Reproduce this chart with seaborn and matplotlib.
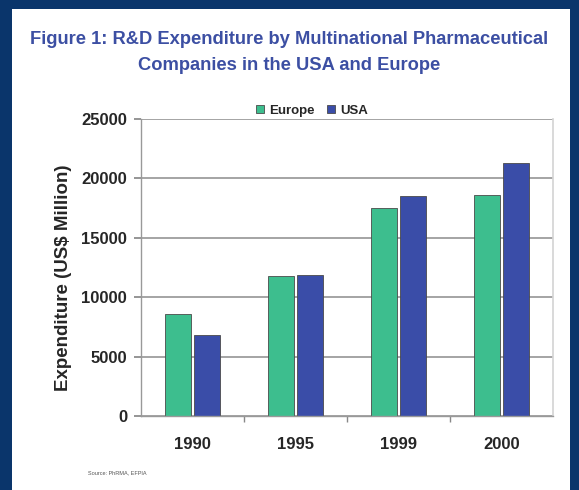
import matplotlib
matplotlib.use("Agg")
import matplotlib.pyplot as plt
import seaborn as sns
import pandas as pd
from matplotlib.patches import Rectangle

years = ["1990", "1995", "1999", "2000"]
europe = [8600, 11800, 17500, 18600]
usa = [6800, 11900, 18500, 21300]
series = ["Europe", "USA"]
colors = ["#3DBE8E", "#3A4DA8"]
yticks = [0, 5000, 10000, 15000, 20000, 25000]

df = pd.DataFrame({
    "Year": years * 2,
    "Value": europe + usa,
    "Series": ["Europe"] * len(years) + ["USA"] * len(years),
})

sns.set_theme(style="white")
plt.rcParams["font.family"] = ["Liberation Sans", "DejaVu Sans"]

W, H = 579, 490
fig = plt.figure(figsize=(W / 100, H / 100), dpi=100)
fig.patch.set_facecolor("#0A356B")
fig.patches.append(Rectangle((12 / W, 0), (570 - 12) / W, (H - 9) / H,
                             transform=fig.transFigure, facecolor="white",
                             edgecolor="none", zorder=-10))

ax = fig.add_axes([141 / W, 1 - 416 / H, (553 - 141) / W, (416 - 119) / H])
ax.set_zorder(5)
ax.set_facecolor("white")
sns.barplot(data=df, x="Year", y="Value", hue="Series", hue_order=series,
            palette=colors, saturation=1, width=0.58, gap=0.13, ax=ax,
            edgecolor="#4A4A4A", linewidth=0.6, legend=True)

ax.set_ylim(0, 25000)
ax.set_yticks(yticks)
ax.set_yticklabels([str(v) for v in yticks], fontsize=12, fontweight="bold")
ax.set_xlim(-0.5, 3.5)
ax.set_xticks(range(len(years)))
ax.set_xticklabels(years, fontsize=12, fontweight="bold")
ax.tick_params(axis="x", length=0, pad=15)
ax.set_xticks([0.5, 1.5, 2.5], minor=True)
ax.tick_params(axis="x", which="minor", length=4, color="#888888", direction="out", bottom=True)
ax.tick_params(axis="y", length=5, color="#888888", direction="out", left=True, pad=5)
ax.yaxis.grid(True, color="#8C8C8C", linewidth=1.1)
ax.set_axisbelow(True)
for s in ["left", "bottom"]:
    ax.spines[s].set_color("#999999")
    ax.spines[s].set_linewidth(1.0)
ax.spines["right"].set_color("#D5D5D5")
ax.spines["top"].set_visible(False)

ax.set_xlabel("")
ax.set_ylabel("Expenditure (US$ Million)", fontsize=13.5, fontweight="bold")
ax.yaxis.set_label_coords((72 - 141) / 412, 0.465)

leg = ax.legend(loc="lower center", bbox_to_anchor=(0.415, 0.985), ncol=2, frameon=False,
                fontsize=9.5, handlelength=0.6, handleheight=0.6, handletextpad=0.35,
                columnspacing=1.0, borderaxespad=0.1)
for t in leg.get_texts():
    t.set_fontweight("bold")

fig.text(0.5, 1 - 40 / H, "Figure 1: R&D Expenditure by Multinational Pharmaceutical",
         ha="center", va="center", fontsize=13.2, fontweight="bold", color="#3C4FA3")
fig.text(0.5, 1 - 65 / H, "Companies in the USA and Europe",
         ha="center", va="center", fontsize=13.2, fontweight="bold", color="#3C4FA3")
fig.text(88 / W, 1 - 473 / H, "Source: PhRMA, EFPIA", ha="left", va="center",
         fontsize=4, color="#555555")

fig.savefig("out.png", dpi=100, facecolor=fig.get_facecolor())
